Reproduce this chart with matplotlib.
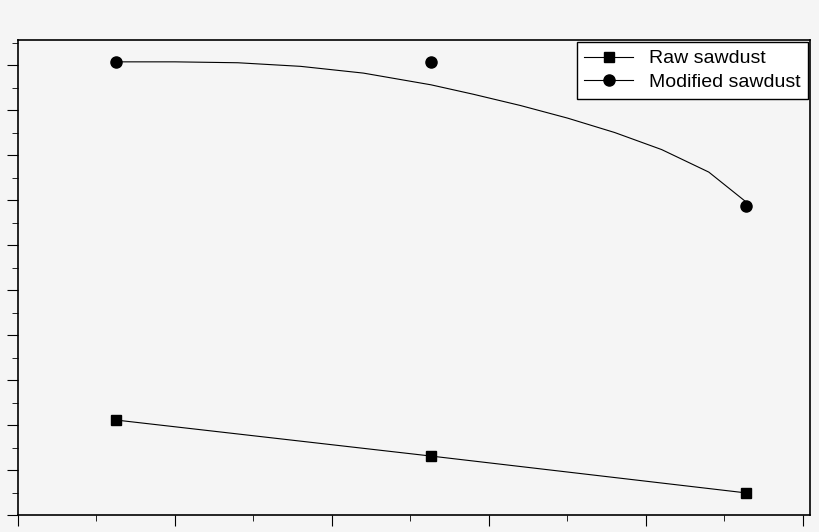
import matplotlib.pyplot as plt
from matplotlib.ticker import MultipleLocator

# values (x in tick units, y in tick units)
x_pts = [0.625, 2.63, 4.64]
raw = [2.11, 1.31, 0.49]
modified = [10.07, 10.07, 6.87]
# smooth fitted curve drawn through the modified series
curve_x = [0.625, 1.0, 1.4, 1.8, 2.2, 2.63, 2.9, 3.2, 3.5, 3.8, 4.1, 4.4, 4.64]
curve_y = [10.07, 10.07, 10.05, 9.97, 9.82, 9.56, 9.35, 9.1, 8.82, 8.5, 8.12, 7.62, 6.95]

fig = plt.figure(figsize=(8.2, 5.32), dpi=100, facecolor="#f5f5f5")
ax = fig.add_axes([18 / 820, 17 / 532, 792 / 820, 475 / 532])
ax.set_facecolor("#f5f5f5")

ax.plot(x_pts, raw, color="black", lw=0.8, marker="s", ms=7, label="Raw sawdust")
ax.plot(curve_x, curve_y, color="black", lw=0.8)
ax.plot(x_pts, modified, ls="none", color="black", marker="o", ms=8)
ax.plot([], [], color="black", lw=0.8, marker="o", ms=8, label="Modified sawdust")

ax.set_xlim(0, 792 / 157)
ax.set_ylim(0, 475 / 45)
ax.xaxis.set_major_locator(MultipleLocator(1))
ax.xaxis.set_minor_locator(MultipleLocator(0.5))
ax.yaxis.set_major_locator(MultipleLocator(1))
ax.yaxis.set_minor_locator(MultipleLocator(0.5))
ax.tick_params(which="major", length=8, labelleft=False, labelbottom=False)
ax.tick_params(which="minor", length=4)
for s in ax.spines.values():
    s.set_linewidth(1.2)

leg = ax.legend(loc="upper right", fontsize=14, frameon=True, fancybox=False,
                edgecolor="black", framealpha=1, facecolor="white",
                borderaxespad=0.1, handlelength=2.5, labelspacing=0.3)
for t in leg.get_texts():
    t.set_fontfamily("Liberation Sans")

fig.savefig("out.png", dpi=100, facecolor=fig.get_facecolor())
